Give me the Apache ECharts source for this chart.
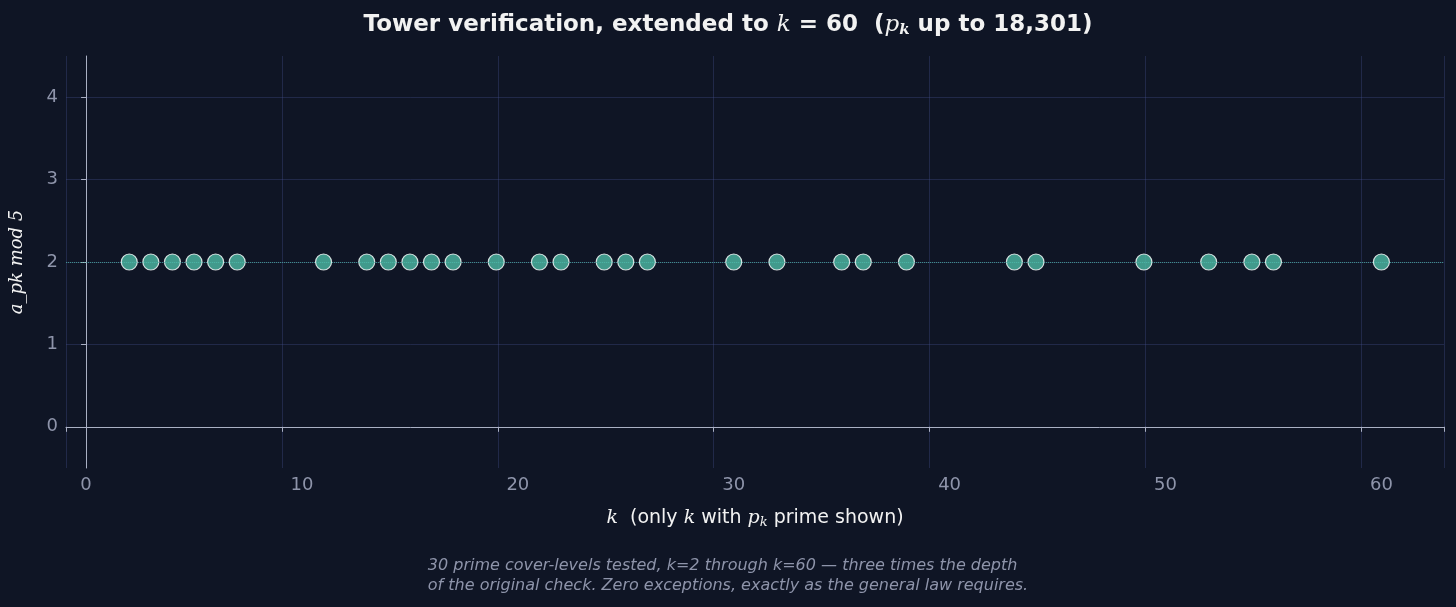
<!DOCTYPE html><html><head><meta charset="utf-8"><script src="https://cdn.jsdelivr.net/npm/echarts@6/dist/echarts.min.js"></script>
<style>html,body{margin:0;background:#0f1525}#c{width:1456px;height:607px}</style></head><body><div id="c"></div><script>
const ks=[2,3,4,5,6,7,11,13,14,15,16,17,19,21,22,24,25,26,30,32,35,36,38,43,44,49,52,54,55,60];
const vals=ks.map(()=>2);
const xTicks=[0,10,20,30,40,50,60];
const yTicks=[0,1,2,3,4];
const c=echarts.init(document.getElementById('c'));
const ax='#aab0c4', gridc='rgba(70,80,140,0.35)';
c.setOption({backgroundColor:'#0f1525',
title:{text:'Tower verification, extended to {i|k} = 60  ({i|p}{s|k} up to 18,301)',left:'center',top:8,textStyle:{color:'#f2f2f2',fontSize:23,fontWeight:'bold',fontFamily:'DejaVu Sans',rich:{i:{fontStyle:'italic',fontFamily:'DejaVu Serif',fontSize:23,color:'#f2f2f2',fontWeight:'normal'},s:{fontStyle:'italic',fontFamily:'DejaVu Serif',fontSize:15,color:'#f2f2f2',verticalAlign:'bottom',padding:[10,0,0,0]}}}},
grid:{left:66,right:12,top:56,bottom:139},
xAxis:{type:'value',min:-0.93,max:62.9,interval:10,
 name:'{i|k}  (only {i|k} with {i|p}{s|k} prime shown)',nameLocation:'middle',nameGap:40,nameTextStyle:{color:'#f2f2f2',fontSize:19,fontFamily:'DejaVu Sans',rich:{i:{fontStyle:'italic',fontFamily:'DejaVu Serif',fontSize:19,color:'#f2f2f2'},s:{fontStyle:'italic',fontFamily:'DejaVu Serif',fontSize:13,color:'#f2f2f2',padding:[8,0,0,0]}}},
 axisLine:{lineStyle:{color:ax}},axisTick:{show:true,lineStyle:{color:ax}},
 axisLabel:{color:'#8e94aa',fontSize:18,fontFamily:'DejaVu Sans',customValues:xTicks},
 splitLine:{show:true,lineStyle:{color:gridc}},
 customValues:xTicks},
yAxis:{type:'value',min:-0.5,max:4.5,
 name:'a_pk mod 5',nameLocation:'middle',nameGap:40,nameRotate:90,nameTextStyle:{color:'#f2f2f2',fontSize:18,fontFamily:'DejaVu Serif',fontStyle:'italic'},
 axisLine:{show:true,lineStyle:{color:ax}},axisTick:{show:true,lineStyle:{color:ax},customValues:yTicks},
 axisLabel:{color:'#8e94aa',fontSize:18,fontFamily:'DejaVu Sans',customValues:yTicks},
 splitLine:{show:true,lineStyle:{color:gridc}}},
series:[{type:'scatter',data:ks.map((k,i)=>[k,vals[i]]),symbolSize:16,itemStyle:{color:'#4dbba6',borderColor:'#ffffff',borderWidth:1.2},
 markLine:{silent:true,symbol:'none',label:{show:false},lineStyle:{color:'#4dbba6',type:'dotted',width:1,opacity:0.7},data:[{yAxis:2}]},z:3}],
graphic:[{type:'text',left:'center',top:556,style:{text:'30 prime cover-levels tested, k=2 through k=60 — three times the depth\nof the original check. Zero exceptions, exactly as the general law requires.',fill:'#8e94aa',fontSize:16,fontStyle:'italic',fontFamily:'DejaVu Sans',align:'center',lineHeight:20}}]
});
</script></body></html>
